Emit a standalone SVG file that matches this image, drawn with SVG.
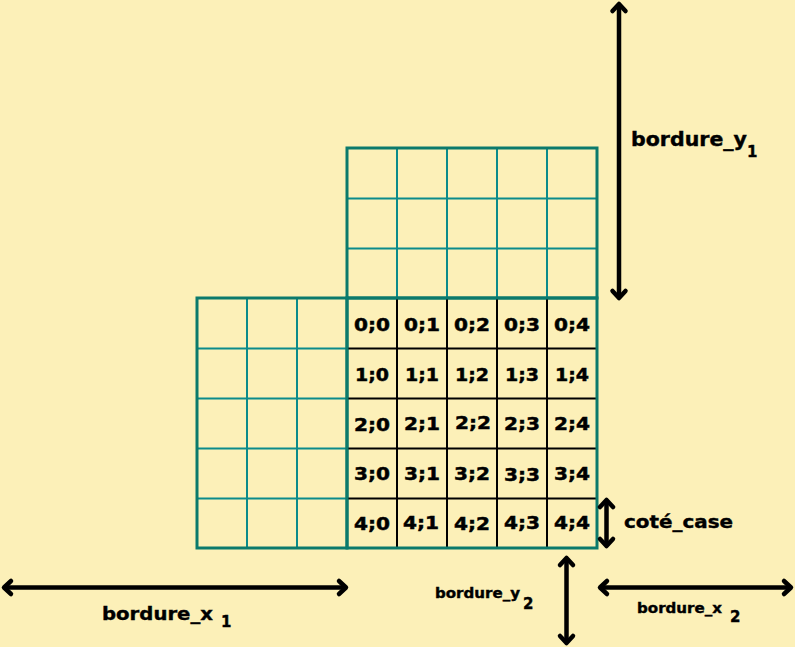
<svg xmlns="http://www.w3.org/2000/svg" width="795" height="647" viewBox="0 0 795 647">
<style>
.bg{fill:#fcf0b8}
.inner{stroke:#0b8b8b;stroke-width:2;fill:none}
.blk{stroke:#000;stroke-width:2;fill:none}
.border{stroke:#0b7a6c;stroke-width:3;fill:none;stroke-linecap:square}
.arrow{stroke:#000;stroke-width:4.5;fill:none;marker-start:url(#head);marker-end:url(#head)}
.cell{font-family:"DejaVu Sans",Verdana,sans-serif;font-weight:bold;font-size:18px;fill:#000;stroke:#000;stroke-width:0.5;text-anchor:middle}
.lbl{font-family:"DejaVu Sans",Verdana,sans-serif;font-weight:bold;fill:#000;stroke:#000;stroke-width:0.4}
</style>
<defs>
<marker id="head" markerUnits="userSpaceOnUse" orient="auto-start-reverse" refX="0" refY="0" markerWidth="20" markerHeight="20" viewBox="-10 -10 20 20" overflow="visible">
<path d="M -7 -6.5 L 0 0 L -7 6.5" stroke="#000" stroke-width="4.5" fill="none" stroke-linecap="round" stroke-linejoin="round"/>
</marker>
</defs>
<rect class="bg" x="0" y="0" width="795" height="647"/>
<g id="grid-upper">
<path class="inner" d="M397 148V298M447 148V298M497 148V298M547 148V298M347 198.5H597M347 248.5H597"/>
<rect class="border" x="347" y="148" width="250" height="150"/>
</g>
<g id="grid-left">
<path class="inner" d="M247 298V548M297 298V548M197 348.5H347M197 398.5H347M197 448.5H347M197 498.5H347"/>
<rect class="border" x="197" y="298" width="150" height="250"/>
</g>
<g id="grid-main">
<path class="blk" d="M397 298V548M447 298V548M497 298V548M547 298V548M347 348.5H597M347 398.5H597M347 448.5H597M347 498.5H597"/>
<rect class="border" x="347" y="298" width="250" height="250"/>
</g>
<g id="cells">
<text class="cell" x="372" y="331" textLength="36" lengthAdjust="spacingAndGlyphs">0;0</text>
<text class="cell" x="422" y="331" textLength="36" lengthAdjust="spacingAndGlyphs">0;1</text>
<text class="cell" x="472" y="331" textLength="36" lengthAdjust="spacingAndGlyphs">0;2</text>
<text class="cell" x="522" y="331" textLength="36" lengthAdjust="spacingAndGlyphs">0;3</text>
<text class="cell" x="572" y="331" textLength="36" lengthAdjust="spacingAndGlyphs">0;4</text>
<text class="cell" x="372" y="381" textLength="34" lengthAdjust="spacingAndGlyphs">1;0</text>
<text class="cell" x="422" y="381" textLength="34" lengthAdjust="spacingAndGlyphs">1;1</text>
<text class="cell" x="472" y="381" textLength="34" lengthAdjust="spacingAndGlyphs">1;2</text>
<text class="cell" x="522" y="381" textLength="34" lengthAdjust="spacingAndGlyphs">1;3</text>
<text class="cell" x="572" y="381" textLength="34" lengthAdjust="spacingAndGlyphs">1;4</text>
<text class="cell" x="372" y="431" textLength="36" lengthAdjust="spacingAndGlyphs">2;0</text>
<text class="cell" x="422" y="430" textLength="36" lengthAdjust="spacingAndGlyphs">2;1</text>
<text class="cell" x="473" y="429" textLength="36" lengthAdjust="spacingAndGlyphs">2;2</text>
<text class="cell" x="522" y="430" textLength="36" lengthAdjust="spacingAndGlyphs">2;3</text>
<text class="cell" x="572" y="430" textLength="36" lengthAdjust="spacingAndGlyphs">2;4</text>
<text class="cell" x="372" y="480" textLength="36" lengthAdjust="spacingAndGlyphs">3;0</text>
<text class="cell" x="422" y="480" textLength="36" lengthAdjust="spacingAndGlyphs">3;1</text>
<text class="cell" x="472" y="480" textLength="36" lengthAdjust="spacingAndGlyphs">3;2</text>
<text class="cell" x="522" y="481" textLength="36" lengthAdjust="spacingAndGlyphs">3;3</text>
<text class="cell" x="572" y="480" textLength="36" lengthAdjust="spacingAndGlyphs">3;4</text>
<text class="cell" x="372" y="530" textLength="36" lengthAdjust="spacingAndGlyphs">4;0</text>
<text class="cell" x="421" y="529" textLength="36" lengthAdjust="spacingAndGlyphs">4;1</text>
<text class="cell" x="472" y="530" textLength="36" lengthAdjust="spacingAndGlyphs">4;2</text>
<text class="cell" x="522" y="529" textLength="36" lengthAdjust="spacingAndGlyphs">4;3</text>
<text class="cell" x="572" y="529" textLength="36" lengthAdjust="spacingAndGlyphs">4;4</text>
</g>
<g id="connectors">
<line class="arrow" x1="619" y1="4" x2="619" y2="298"/>
<line class="arrow" x1="606.5" y1="500" x2="606.5" y2="546"/>
<line class="arrow" x1="566.5" y1="558" x2="566.5" y2="643"/>
<line class="arrow" x1="600" y1="587.5" x2="791" y2="587.5"/>
<line class="arrow" x1="4" y1="587.5" x2="346" y2="587.5"/>
</g>
<g id="labels">
<text class="lbl" x="631" y="146" font-size="19"><tspan textLength="116" lengthAdjust="spacingAndGlyphs">bordure_y</tspan><tspan x="747" y="157" font-size="15">1</tspan></text>
<text class="lbl" x="624" y="528" font-size="18" textLength="109" lengthAdjust="spacingAndGlyphs">coté_case</text>
<text class="lbl" x="435" y="598" font-size="14"><tspan textLength="85" lengthAdjust="spacingAndGlyphs">bordure_y</tspan><tspan x="523" y="609" font-size="15">2</tspan></text>
<text class="lbl" x="637" y="613" font-size="14"><tspan textLength="85" lengthAdjust="spacingAndGlyphs">bordure_x</tspan><tspan x="730" y="622" font-size="15">2</tspan></text>
<text class="lbl" x="102" y="620" font-size="18"><tspan textLength="111" lengthAdjust="spacingAndGlyphs">bordure_x</tspan><tspan x="221" y="627" font-size="15">1</tspan></text>
</g>
</svg>
